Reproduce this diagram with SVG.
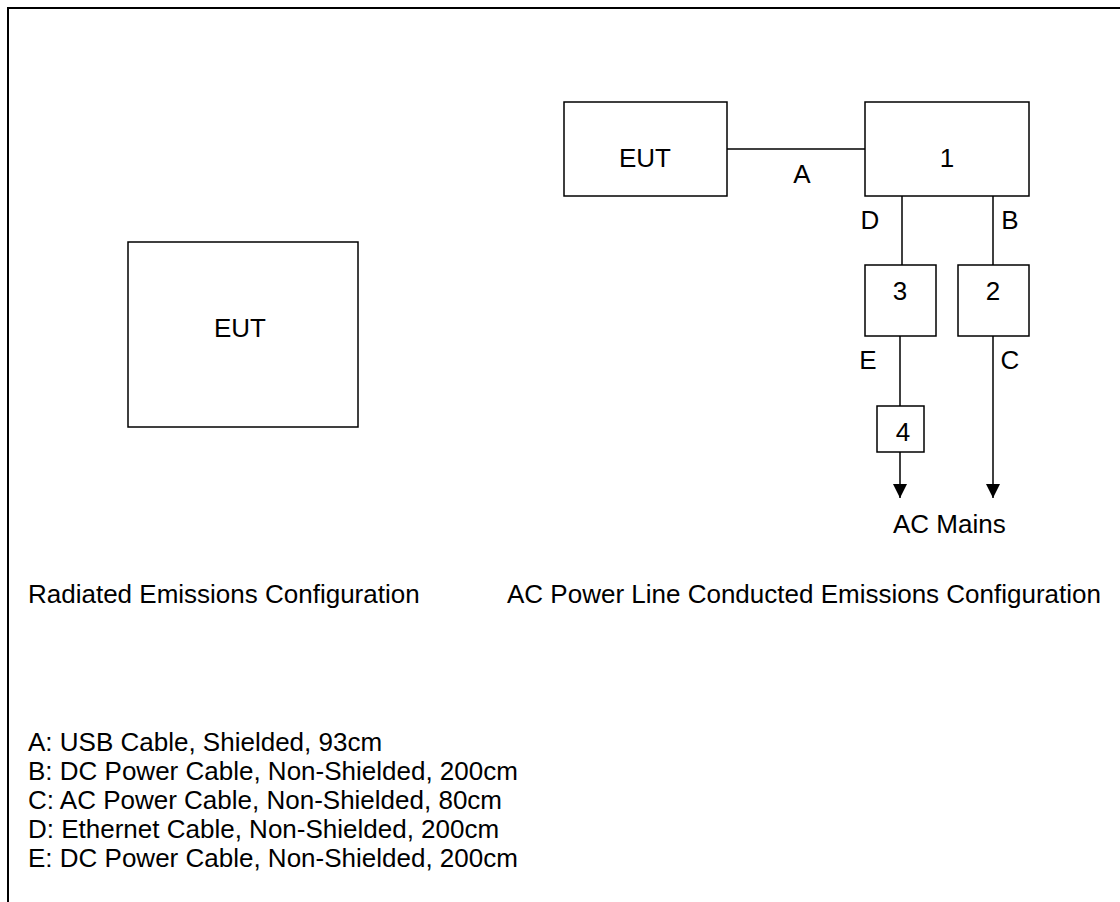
<svg xmlns="http://www.w3.org/2000/svg" width="1120" height="902" viewBox="0 0 1120 902">
<defs>
<style>
text{font-family:"Liberation Sans",Arial,sans-serif;font-size:26px;fill:#000}
.box{fill:#fff;stroke:#000;stroke-width:1.5}
.ln{stroke:#000;stroke-width:1.5;fill:none}
.c{text-anchor:middle}
</style>
<marker id="arr" markerWidth="14" markerHeight="16" refX="14" refY="7" orient="auto" markerUnits="userSpaceOnUse">
<path d="M0,0 L14,7 L0,14 Z" fill="#000"/>
</marker>
</defs>
<rect x="0" y="0" width="1120" height="902" fill="#fff"/>
<rect x="8" y="8" width="1200" height="1000" fill="none" stroke="#000" stroke-width="2"/>
<g id="connectors">
<line class="ln" x1="727" y1="149" x2="865" y2="149"/>
<line class="ln" x1="902" y1="196" x2="902" y2="265"/>
<line class="ln" x1="993" y1="196" x2="993" y2="265"/>
<line class="ln" x1="900" y1="336" x2="900" y2="406"/>
<line class="ln" x1="900" y1="452" x2="900" y2="498" marker-end="url(#arr)"/>
<line class="ln" x1="993" y1="336" x2="993" y2="498" marker-end="url(#arr)"/>
<text x="802" y="183" class="c">A</text>
<text x="870" y="229" class="c">D</text>
<text x="1010" y="229" class="c">B</text>
<text x="868" y="369" class="c">E</text>
<text x="1010" y="369" class="c">C</text>
</g>
<g id="eut-radiated">
<rect class="box" x="128" y="242" width="230" height="185"/>
<text x="240" y="337" class="c">EUT</text>
</g>
<g id="eut-conducted">
<rect class="box" x="564" y="102" width="163" height="94"/>
<text x="645" y="167" class="c">EUT</text>
</g>
<g id="node1">
<rect class="box" x="865" y="102" width="164" height="94"/>
<text x="947" y="167" class="c">1</text>
</g>
<g id="node3">
<rect class="box" x="865" y="265" width="71" height="71"/>
<text x="900" y="300" class="c">3</text>
</g>
<g id="node2">
<rect class="box" x="958" y="265" width="71" height="71"/>
<text x="993" y="300" class="c">2</text>
</g>
<g id="node4">
<rect class="box" x="877" y="406" width="47" height="46"/>
<text x="903" y="441" class="c">4</text>
</g>
<g id="labels">
<text x="893" y="533">AC Mains</text>
<text x="28" y="603">Radiated Emissions Configuration</text>
<text x="507" y="603">AC Power Line Conducted Emissions Configuration</text>
<text x="28" y="751">A: USB Cable, Shielded, 93cm</text>
<text x="28" y="780">B: DC Power Cable, Non-Shielded, 200cm</text>
<text x="28" y="809">C: AC Power Cable, Non-Shielded, 80cm</text>
<text x="28" y="838">D: Ethernet Cable, Non-Shielded, 200cm</text>
<text x="28" y="867">E: DC Power Cable, Non-Shielded, 200cm</text>
</g>
</svg>
